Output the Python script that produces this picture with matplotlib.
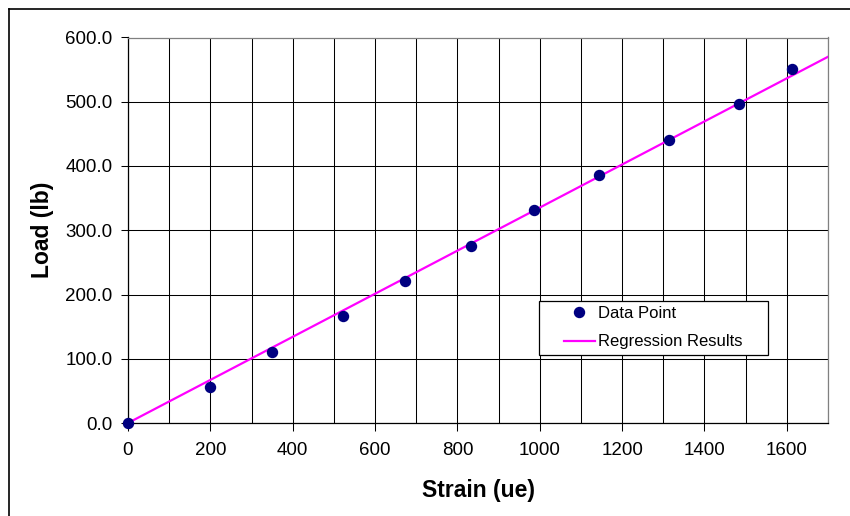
import matplotlib
matplotlib.use("Agg")
from matplotlib import pyplot as plt
from matplotlib.patches import Rectangle
from matplotlib.lines import Line2D
from matplotlib.ticker import MultipleLocator, FormatStrFormatter

plt.rcParams['font.family'] = ['Liberation Sans', 'DejaVu Sans']

# Donnees
strain = [0, 199, 349, 521, 672, 832, 985, 1144, 1315, 1484, 1612]
load = [0, 55.6, 110.6, 166, 220.8, 275.8, 331, 386, 441, 496.6, 551]
# Droite de regression (extremites)
reg_x = [0, 1700]
reg_y = [0, 570]

fig = plt.figure(figsize=(8.5, 5.16), dpi=100)
ax = fig.add_axes([128 / 850, 1 - 423 / 516, 700 / 850, 385.5 / 516])

ax.plot(reg_x, reg_y, color='#FF00FF', lw=1.6, label='Regression Results', zorder=3)
ax.plot(strain, load, 'o', color='#000080', ms=7.2, label='Data Point',
        zorder=4, clip_on=False)

ax.set_xlim(0, 1700)
ax.set_ylim(0, 600)
ax.xaxis.set_major_locator(MultipleLocator(200))
ax.xaxis.set_minor_locator(MultipleLocator(100))
ax.yaxis.set_major_locator(MultipleLocator(100))
ax.yaxis.set_major_formatter(FormatStrFormatter('%.1f'))
ax.grid(True, which='both', color='black', lw=0.75)
ax.set_axisbelow(True)
ax.tick_params(axis='x', which='major', direction='out', length=6, width=0.75,
               labelsize=13.5, pad=8)
ax.tick_params(axis='x', which='minor', length=0)
ax.tick_params(axis='y', direction='out', length=5, width=0.75, labelsize=13.5, pad=6)

for s in ['left', 'bottom']:
    ax.spines[s].set_color('black')
    ax.spines[s].set_linewidth(0.9)
for s in ['top', 'right']:
    ax.spines[s].set_color('#808080')
    ax.spines[s].set_linewidth(0.9)

fig.text(479 / 850, 1 - 490 / 516, 'Strain (ue)', fontsize=16.5, fontweight='bold',
         ha='center', va='center')
fig.text(43 / 850, 1 - 230 / 516, 'Load (lb)', fontsize=16.5, fontweight='bold',
         ha='center', va='center', rotation=90)

# Cadre de la legende
x0 = (539 - 128) / 700
x1 = (768 - 128) / 700
y0 = (423 - 355) / 385.5
y1 = (423 - 301) / 385.5
ax.add_patch(Rectangle((x0, y0), x1 - x0, y1 - y0, transform=ax.transAxes,
                       facecolor='white', edgecolor='black', lw=0.9,
                       zorder=6, clip_on=False))
h, l = ax.get_legend_handles_labels()
leg = ax.legend(h[::-1], l[::-1], frameon=False, loc='upper left',
                bbox_to_anchor=((564 - 128) / 700, (423 - 306) / 385.5),
                borderpad=0, borderaxespad=0, fontsize=12,
                handlelength=1.85, handletextpad=0.2, labelspacing=0.8)
leg.set_zorder(7)

# Cadre exterieur
fig.add_artist(Line2D([9 / 850, 9 / 850], [0, 1 - 9 / 516], color='black', lw=1.2))
fig.add_artist(Line2D([9 / 850, 1], [1 - 9 / 516, 1 - 9 / 516], color='black', lw=1.2))

fig.savefig('out.png', dpi=100)
plt.close()
